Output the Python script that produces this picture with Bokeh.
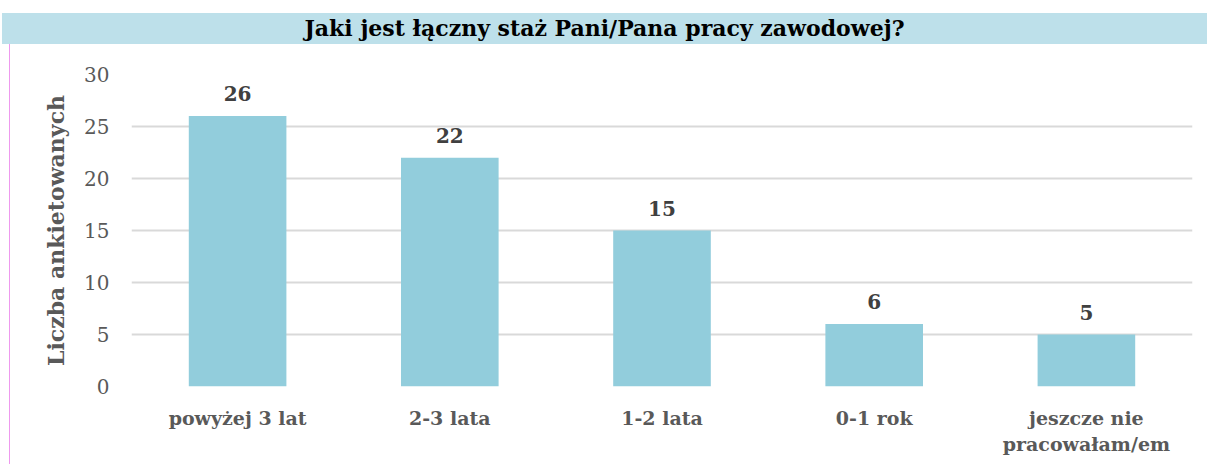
from bokeh.plotting import figure
from bokeh.models import Div, ColumnDataSource, FixedTicker
from bokeh.layouts import column
from bokeh.core.properties import value
from bokeh.embed import file_html
from bokeh.resources import INLINE

categories = ["powyżej 3 lat", "2-3 lata", "1-2 lata", "0-1 rok", "jeszcze nie\npracowałam/em"]
counts = [26, 22, 15, 6, 5]
y_ticks = [0, 5, 10, 15, 20, 25, 30]
title_text = "Jaki jest łączny staż Pani/Pana pracy zawodowej?"
y_label = "Liczba ankietowanych"

FONT = "DejaVu Serif"

div = Div(
    text=title_text,
    width=1205, height=31,
    margin=(13, 0, 0, 2),
    styles={
        "background-color": "#BDE0EA",
        "font-family": FONT,
        "font-weight": "bold",
        "font-size": "22px",
        "color": "#000000",
        "text-align": "center",
        "line-height": "31px",
        "width": "1205px",
        "height": "31px",
    },
)

src = ColumnDataSource(dict(cat=categories, val=counts, lab=[str(v) for v in counts]))

p = figure(
    x_range=categories, y_range=(0, 30),
    width=1193, height=420,
    output_backend="svg", toolbar_location=None,
    min_border_left=121, min_border_right=11, min_border_top=30, min_border_bottom=78,
    margin=(0, 0, 0, 9),
)
p.styles = {"border-left": "1px solid #EE99EE"}
p.outline_line_color = None
p.background_fill_color = "white"

p.vbar(x="cat", top="val", width=0.46, source=src, color="#92CDDC", line_color=None)

p.text(x="cat", y="val", text="lab", source=src, y_offset=-15,
       text_align="center", text_baseline="bottom",
       text_font=value(FONT), text_font_style="bold", text_font_size="20px",
       text_color="#404040")

p.yaxis.ticker = FixedTicker(ticks=y_ticks)
p.ygrid.ticker = FixedTicker(ticks=y_ticks)
p.ygrid.grid_line_color = "#D9D9D9"
p.ygrid.grid_line_width = 2
p.xgrid.grid_line_color = None

p.yaxis.axis_line_color = None
p.yaxis.major_tick_line_color = None
p.yaxis.minor_tick_line_color = None
p.yaxis.major_label_text_font = FONT
p.yaxis.major_label_text_font_size = "20px"
p.yaxis.major_label_text_color = "#595959"
p.yaxis.major_label_standoff = 16
p.yaxis.axis_label = y_label
p.yaxis.axis_label_text_font = FONT
p.yaxis.axis_label_text_font_style = "bold"
p.yaxis.axis_label_text_font_size = "22px"
p.yaxis.axis_label_text_color = "#595959"
p.yaxis.axis_label_standoff = 12

p.xaxis.axis_line_color = None
p.xaxis.major_tick_line_color = None
p.xaxis.minor_tick_line_color = None
p.xaxis.major_label_text_font = FONT
p.xaxis.major_label_text_font_style = "bold"
p.xaxis.major_label_text_font_size = "19px"
p.xaxis.major_label_text_color = "#595959"
p.xaxis.major_label_standoff = 14

layout = column(div, p, spacing=0)

open("out.html", "w").write(file_html(layout, INLINE))
